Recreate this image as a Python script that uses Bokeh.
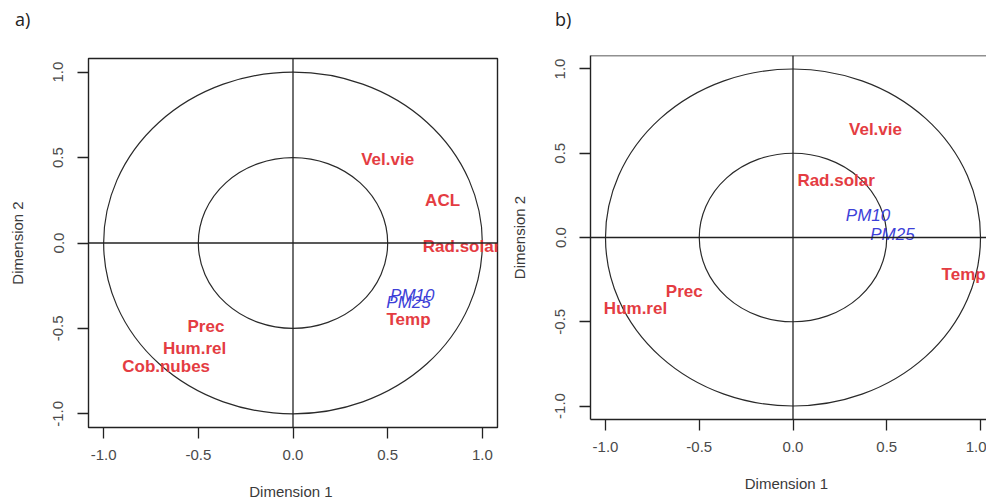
from bokeh.plotting import figure
from bokeh.models import Span, Div, Range1d, FixedTicker, PrintfTickFormatter, ColumnDataSource
from bokeh.layouts import row, column
from bokeh.core.properties import value
from bokeh.embed import file_html
from bokeh.resources import INLINE

# ---- data ----
a_vars = ["Vel.vie", "ACL", "Rad.solar", "Temp", "Prec", "Hum.rel", "Cob.nubes"]
a_x = [0.50, 0.79, 0.89, 0.61, -0.46, -0.52, -0.67]
a_y = [0.49, 0.25, -0.02, -0.45, -0.49, -0.62, -0.72]
a_sup = ["PM10", "PM25"]
a_sup_x = [0.63, 0.61]
a_sup_y = [-0.31, -0.35]

b_vars = ["Vel.vie", "Rad.solar", "Temp", "Prec", "Hum.rel"]
b_x = [0.44, 0.23, 0.91, -0.58, -0.84]
b_y = [0.64, 0.34, -0.22, -0.32, -0.42]
b_sup = ["PM10", "PM25"]
b_sup_x = [0.40, 0.53]
b_sup_y = [0.13, 0.02]

ticks = [-1.0, -0.5, 0.0, 0.5, 1.0]
radii = [1.0, 0.5]
x_title = "Dimension  1"
y_title = "Dimension 2"

TAG_H = 30
H = 503 - TAG_H
RED = "#e43c42"
BLUE = "#3d3fd8"
AX_FONT = "Liberation Sans"
LINE = "#222222"


def make_panel(width, xr, yr, mb, names, xs, ys, snames, sxs, sys, full_box):
    p = figure(width=width, height=H, x_range=Range1d(*xr), y_range=Range1d(*yr),
               output_backend="svg", toolbar_location=None,
               min_border_left=mb[0], min_border_right=mb[1],
               min_border_top=mb[2], min_border_bottom=mb[3],
               background_fill_color="white", border_fill_color="white")
    p.grid.visible = False

    if full_box:
        p.outline_line_color = LINE
        p.outline_line_width = 1.4
    else:
        p.outline_line_color = None
        p.add_layout(Span(location=yr[1], dimension="width", line_color=LINE, line_width=1.4))

    xa = p.below[0]
    ya = p.left[0]
    for ax in (xa, ya):
        ax.ticker = FixedTicker(ticks=ticks)
        ax.formatter = PrintfTickFormatter(format="%.1f")
        ax.minor_tick_line_color = None
        ax.major_tick_in = 0
        ax.major_tick_out = 11
        ax.major_tick_line_color = LINE
        ax.major_tick_line_width = 1.3
        ax.axis_line_color = None if full_box else LINE
        ax.axis_line_width = 1.4
        ax.major_label_text_font = AX_FONT
        ax.major_label_text_font_size = "15px"
        ax.major_label_text_color = "#4a4a4a"
        ax.axis_label_text_font = AX_FONT
        ax.axis_label_text_font_size = "15px"
        ax.axis_label_text_font_style = "normal"
        ax.axis_label_text_color = "#3a3a3a"
    xa.axis_label = x_title
    xa.major_label_standoff = 11
    xa.axis_label_standoff = 20
    ya.axis_label = y_title
    ya.major_label_standoff = 14
    ya.axis_label_standoff = 25
    ya.major_label_orientation = "vertical"

    for r in radii:
        p.ellipse(x=0, y=0, width=2 * r, height=2 * r, fill_color=None,
                  line_color="#2a2a2a", line_width=1.2)
    p.add_layout(Span(location=0, dimension="width", line_color=LINE, line_width=1.3))
    p.add_layout(Span(location=0, dimension="height", line_color=LINE, line_width=1.3))

    src = ColumnDataSource(dict(x=xs, y=ys, t=names))
    p.text(x="x", y="y", text="t", source=src, text_color=RED,
           text_font=value(AX_FONT), text_font_style="bold", text_font_size="17px",
           text_align="center", text_baseline="middle")
    ssrc = ColumnDataSource(dict(x=sxs, y=sys, t=snames))
    p.text(x="x", y="y", text="t", source=ssrc, text_color=BLUE,
           text_font=value(AX_FONT), text_font_style="italic", text_font_size="17px",
           text_align="center", text_baseline="middle")
    return p


def make_tag(tag, total_width, left):
    return Div(text=tag, width=total_width - left, height=TAG_H - 8,
               margin=(8, 0, 0, left),
               styles={"font-family": "'Open Sans', sans-serif", "font-size": "18px",
                       "color": "#222222", "line-height": "22px"})


pa = make_panel(500, (-1.08, 1.08), (-1.08, 1.08), (88, 3, 58 - TAG_H, 76),
                a_vars, a_x, a_y, a_sup, a_sup_x, a_sup_y, True)
pb = make_panel(486, (-1.08, 1.032), (-1.08, 1.08), (90, 0, 55 - TAG_H, 84),
                b_vars, b_x, b_y, b_sup, b_sup_x, b_sup_y, False)

layout = row(column(make_tag("a)", 500, 15), pa), column(make_tag("b)", 486, 555 - 500), pb))
open("out.html", "w").write(file_html(layout, INLINE))
